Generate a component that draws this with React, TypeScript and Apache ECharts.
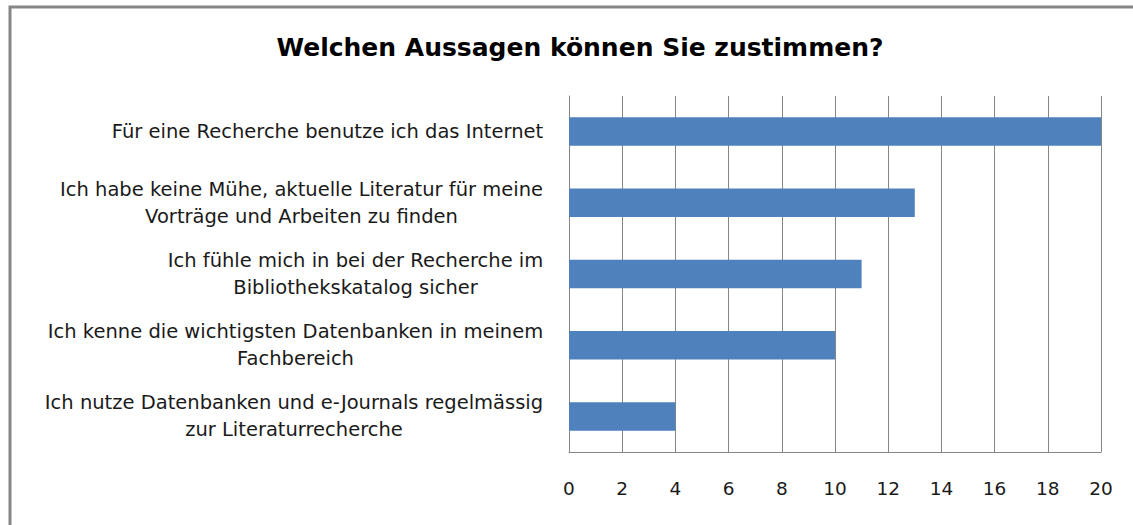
import React, { useEffect, useRef } from "react";
import * as echarts from "echarts";

const titleText = "Welchen Aussagen können Sie zustimmen?";
const categories = [
  "Für eine Recherche benutze ich das Internet",
  "Ich habe keine Mühe, aktuelle Literatur für meine\nVorträge und Arbeiten zu finden",
  "Ich fühle mich in bei der Recherche im\nBibliothekskatalog sicher",
  "Ich kenne die wichtigsten Datenbanken in meinem\nFachbereich",
  "Ich nutze Datenbanken und e-Journals regelmässig\nzur Literaturrecherche",
];
const values = [20, 13, 11, 10, 4];
const xMin = 0;
const xMax = 20;
const xStep = 2;

const FONT = "'DejaVu Sans', 'Open Sans', sans-serif";
const LABEL_SIZE = 19.5;
const LINE_H = 27;

function buildRich() {
  const canvas = document.createElement("canvas");
  const ctx = canvas.getContext("2d");
  const rich: Record<string, any> = {};
  categories.forEach((c, i) => {
    let w = 0;
    if (ctx) {
      ctx.font = `${LABEL_SIZE}px ${FONT}`;
      w = Math.max(...c.split("\n").map((l) => ctx.measureText(l).width));
    }
    rich["c" + i] = {
      fontFamily: FONT,
      fontSize: LABEL_SIZE,
      color: "#1a1a1a",
      lineHeight: LINE_H,
      width: Math.ceil(w) + 1,
      align: "center",
    };
  });
  return rich;
}

export default function App() {
  const ref = useRef<HTMLDivElement>(null);
  useEffect(() => {
    if (!ref.current) return;
    const chart = echarts.init(ref.current, undefined, { renderer: "svg" });
    chart.setOption({
      animation: false,
      backgroundColor: "#ffffff",
      title: {
        text: titleText,
        left: 575,
        top: 30,
        textAlign: "center",
        textStyle: { fontFamily: FONT, fontSize: 25, fontWeight: "bold", color: "#000" },
      },
      graphic: [
        {
          type: "rect",
          shape: { x: 10, y: 7, width: 1160, height: 560 },
          style: { fill: "none", stroke: "#868686", lineWidth: 3 },
          silent: true,
        },
      ],
      grid: { left: 569, right: 32, top: 96, bottom: 73, containLabel: false },
      xAxis: {
        type: "value",
        min: xMin,
        max: xMax,
        interval: xStep,
        axisLine: { show: true, lineStyle: { color: "#868686", width: 1 } },
        axisTick: { show: false },
        splitLine: { show: true, lineStyle: { color: "#868686", width: 1 } },
        axisLabel: { margin: 27, fontFamily: FONT, fontSize: 18.5, color: "#1a1a1a" },
      },
      yAxis: {
        type: "category",
        inverse: true,
        data: categories,
        axisLine: { show: true, lineStyle: { color: "#868686", width: 1 } },
        axisTick: { show: false },
        splitLine: { show: false },
        axisLabel: {
          margin: 25,
          align: "right",
          lineHeight: LINE_H,
          formatter: (v: string, idx: number) =>
            v.split("\n").map((l) => `{c${idx}|${l}}`).join("\n"),
          rich: buildRich(),
        },
      },
      series: [
        {
          type: "bar",
          data: values,
          barWidth: "40%",
          itemStyle: { color: "#4F81BD" },
        },
      ],
    });
    return () => chart.dispose();
  }, []);
  return (
    <div
      ref={ref}
      style={{ position: "fixed", left: 0, top: 0, width: 1133, height: 525 }}
    />
  );
}
